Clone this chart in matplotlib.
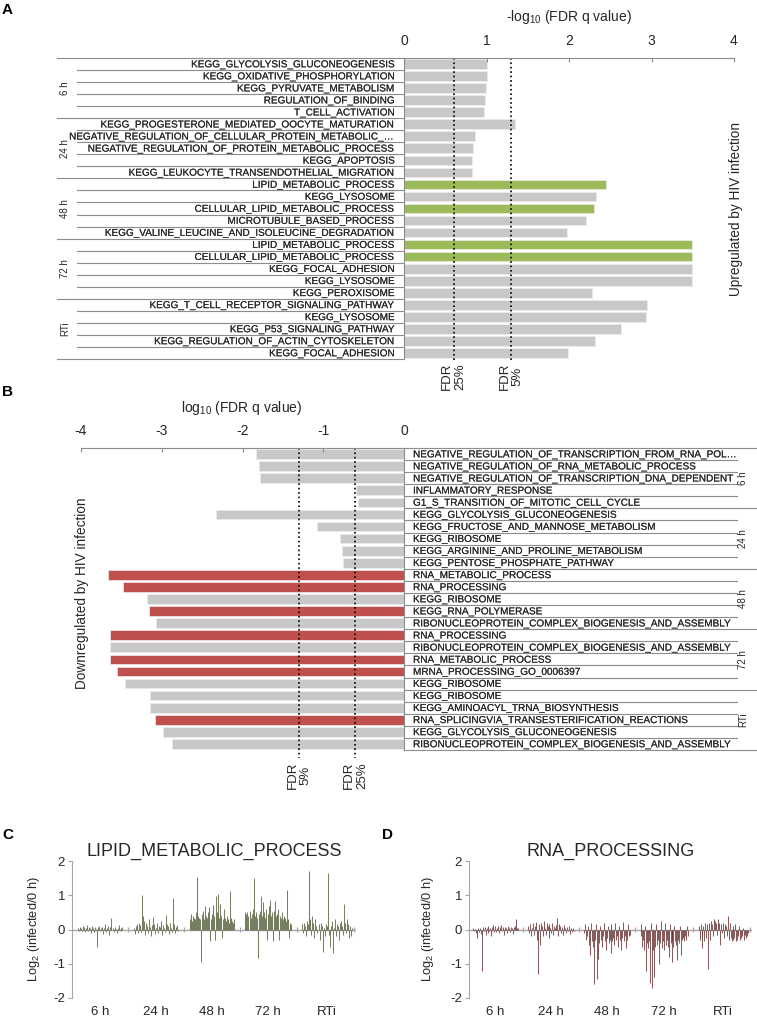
import numpy as np
import matplotlib
matplotlib.use("Agg")
import matplotlib.pyplot as plt
import matplotlib.patheffects as pe

plt.rcParams['font.family'] = ['Liberation Sans', 'DejaVu Sans']
plt.rcParams['mathtext.fontset'] = 'custom'
plt.rcParams['mathtext.rm'] = 'Liberation Sans'
plt.rcParams['mathtext.it'] = 'Liberation Sans:italic'
plt.rcParams['mathtext.default'] = 'regular'
plt.rcParams['axes.unicode_minus'] = False

W, H = 757, 1018

###### DATA ######
groups = ["6 h", "24 h", "48 h", "72 h", "RTi"]

up_terms = [
    "KEGG_GLYCOLYSIS_GLUCONEOGENESIS", "KEGG_OXIDATIVE_PHOSPHORYLATION", "KEGG_PYRUVATE_METABOLISM",
    "REGULATION_OF_BINDING", "T_CELL_ACTIVATION",
    "KEGG_PROGESTERONE_MEDIATED_OOCYTE_MATURATION", "NEGATIVE_REGULATION_OF_CELLULAR_PROTEIN_METABOLIC_\u2026",
    "NEGATIVE_REGULATION_OF_PROTEIN_METABOLIC_PROCESS", "KEGG_APOPTOSIS", "KEGG_LEUKOCYTE_TRANSENDOTHELIAL_MIGRATION",
    "LIPID_METABOLIC_PROCESS", "KEGG_LYSOSOME", "CELLULAR_LIPID_METABOLIC_PROCESS",
    "MICROTUBULE_BASED_PROCESS", "KEGG_VALINE_LEUCINE_AND_ISOLEUCINE_DEGRADATION",
    "LIPID_METABOLIC_PROCESS", "CELLULAR_LIPID_METABOLIC_PROCESS", "KEGG_FOCAL_ADHESION",
    "KEGG_LYSOSOME", "KEGG_PEROXISOME",
    "KEGG_T_CELL_RECEPTOR_SIGNALING_PATHWAY", "KEGG_LYSOSOME", "KEGG_P53_SIGNALING_PATHWAY",
    "KEGG_REGULATION_OF_ACTIN_CYTOSKELETON", "KEGG_FOCAL_ADHESION",
]
up_vals = [1.01, 1.01, 0.99, 0.98, 0.97,
           1.34, 0.86, 0.84, 0.83, 0.82,
           2.45, 2.33, 2.30, 2.20, 1.98,
           3.49, 3.49, 3.49, 3.49, 2.28,
           2.94, 2.93, 2.63, 2.32, 1.99]
up_core = [0, 0, 0, 0, 0,
           0, 0, 0, 0, 0,
           1, 0, 1, 0, 0,
           1, 1, 0, 0, 0,
           0, 0, 0, 0, 0]

down_terms = [
    "NEGATIVE_REGULATION_OF_TRANSCRIPTION_FROM_RNA_POL\u2026", "NEGATIVE_REGULATION_OF_RNA_METABOLIC_PROCESS",
    "NEGATIVE_REGULATION_OF_TRANSCRIPTION_DNA_DEPENDENT", "INFLAMMATORY_RESPONSE",
    "G1_S_TRANSITION_OF_MITOTIC_CELL_CYCLE",
    "KEGG_GLYCOLYSIS_GLUCONEOGENESIS", "KEGG_FRUCTOSE_AND_MANNOSE_METABOLISM", "KEGG_RIBOSOME",
    "KEGG_ARGININE_AND_PROLINE_METABOLISM", "KEGG_PENTOSE_PHOSPHATE_PATHWAY",
    "RNA_METABOLIC_PROCESS", "RNA_PROCESSING", "KEGG_RIBOSOME", "KEGG_RNA_POLYMERASE",
    "RIBONUCLEOPROTEIN_COMPLEX_BIOGENESIS_AND_ASSEMBLY",
    "RNA_PROCESSING", "RIBONUCLEOPROTEIN_COMPLEX_BIOGENESIS_AND_ASSEMBLY", "RNA_METABOLIC_PROCESS",
    "MRNA_PROCESSING_GO_0006397", "KEGG_RIBOSOME",
    "KEGG_RIBOSOME", "KEGG_AMINOACYL_TRNA_BIOSYNTHESIS", "RNA_SPLICINGVIA_TRANSESTERIFICATION_REACTIONS",
    "KEGG_GLYCOLYSIS_GLUCONEOGENESIS", "RIBONUCLEOPROTEIN_COMPLEX_BIOGENESIS_AND_ASSEMBLY",
]
down_vals = [-1.83, -1.80, -1.78, -0.59, -0.57,
             -2.33, -1.08, -0.79, -0.77, -0.76,
             -3.66, -3.48, -3.18, -3.16, -3.07,
             -3.64, -3.64, -3.64, -3.56, -3.46,
             -3.15, -3.15, -3.08, -2.99, -2.87]
down_core = [0, 0, 0, 0, 0,
             0, 0, 0, 0, 0,
             1, 1, 0, 1, 0,
             1, 0, 1, 1, 0,
             0, 0, 1, 0, 0]

# log2(infected / 0 h) per gene, panel C (lipid metabolic process)
lipid_6h = [0.05, -0.03, 0.08, 0.04, -0.05, 0.1, 0.06, -0.08, 0.03, 0.12, -0.04, 0.07, 0.05, -0.1, 0.09,
            0.04, -0.06, 0.08, 0.02, -0.5, 0.06, 0.1, -0.05, 0.04, 0.07, -0.12, 0.05, 0.15, -0.08, 0.03,
            0.09, -0.15, 0.06, 0.33, 0.04, -0.06, 0.08, 0.02, -0.1, 0.05, 0.12, -0.04, 0.03, 0.06, -0.02]
lipid_24h = [0.05, -0.12, 0.1, 0.15, -0.1, 0.2, 0.12, -0.08, 1.0, 0.4, 0.25, -0.15, 0.18, 0.1, -0.1,
             0.3, 0.08, -0.18, 0.12, 0.36, 0.15, -0.12, 0.05, 0.2, -0.1, 0.1, 0.08, 0.25, -0.15, 0.12,
             0.05, -0.08, 0.42, 0.15, 0.1, -0.12, 0.2, 0.05, -0.08, 0.93, 0.15, -0.1, 0.08, 0.12, -0.05]
lipid_48h = [0.3, 0.45, 0.25, 0.4, 0.35, 0.3, 0.5, 1.53, 0.4, 0.35, 0.3, -0.95, 0.45, 0.55, 0.3,
             0.7, 0.4, 0.35, 0.5, 0.65, -0.35, 0.3, 0.45, 0.72, 0.4, -0.3, 0.98, 0.5, 1.05, 0.35,
             0.75, 0.4, -0.25, 0.3, 0.6, 0.35, 0.25, 0.4, 0.3, 0.2, 1.12, 0.35, 0.25, 0.2, 0.3]
lipid_72h = [0.5, 0.45, 0.5, 0.4, 0.55, 0.35, 0.45, 0.6, 1.5, 0.4, 0.5, 0.35, -0.82, 0.45, 0.55,
             0.97, 0.4, 0.8, 0.5, 0.35, 0.6, -0.3, 0.45, 0.7, 0.85, 0.4, 0.5, -0.35, 0.55, 0.82,
             0.4, 0.45, 0.6, -0.3, 0.4, 0.35, 0.5, 0.3, 0.4, 0.35, 0.25, 1.15, 0.3, -0.25, 0.2, 0.15]
lipid_rti = [0.15, -0.1, 0.2, 0.1, -0.2, 0.25, 0.15, 1.7, 0.3, -0.15, 0.4, 0.2, -0.25, 0.3, 0.1,
             -0.1, 0.15, -0.3, 0.2, 0.1, -0.65, 0.05, -0.2, 0.15, 0.1, 1.65, -0.15, -0.5, 0.1, 0.25,
             -0.7, 0.05, 0.3, -0.2, 0.15, 0.1, -0.3, 0.2, 0.25, 0.1, -0.15, 0.75, 0.2, -0.1, 0.3,
             0.15, -0.25, 0.1, -0.2, 0.05]

# panel D (RNA processing)
rna_6h = [0.03, -0.05, 0.02, -0.1, -0.25, 0.05, -0.08, 0.04, -0.12, -1.2, 0.06, -0.05, 0.08, -0.15, 0.05,
          -0.1, 0.1, -0.05, 0.04, -0.2, 0.08, 0.12, -0.06, 0.1, -0.08, 0.05, 0.09, -0.1, 0.07, 0.12,
          -0.04, 0.06, -0.15, 0.08, 0.05, -0.1, 0.1, 0.04, -0.06, 0.08, 0.05, -0.12, 0.06, 0.1, 0.3,
          0.04, 0.05]
rna_24h = [0.1, -0.1, 0.15, -0.2, 0.05, 0.2, -0.15, 0.1, 0.22, -0.3, -1.3, 0.15, -0.45, 0.2, 0.1,
           -0.2, 0.25, 0.05, -0.15, 0.2, 0.1, -0.25, 0.15, 0.05, -0.1, 0.2, -0.15, 0.1, 0.05, 0.12,
           0.35, -0.2, 0.15, 0.1, -0.1, 0.08, -0.15, 0.12, 0.05, -0.1, 0.08, -0.05, 0.1, -0.12, 0.05,
           -0.08, 0.03, -0.05]
rna_48h = [-0.1, 0.15, -0.3, -0.2, 0.1, -0.45, -0.75, 0.2, -0.35, -0.5, -1.6, -0.3, 0.15, -1.45, -0.85,
           -0.4, 0.1, -0.3, -0.5, -0.2, 0.2, -0.35, -0.6, -0.25, 0.1, -0.4, -0.3, -0.7, 0.15, -0.35,
           -0.25, -0.45, 0.2, -0.3, -0.2, -0.5, 0.1, -0.3, -0.6, -0.25, 0.22, -0.35, -0.2, -0.55, -0.3,
           0.15, -0.2, -0.15]
rna_72h = [-0.2, 0.15, -0.5, -0.3, -0.6, 0.1, -1.2, -0.4, -0.55, -0.35, -1.55, 0.2, -1.7, -0.6, -1.4,
           -0.5, 0.15, -0.45, -0.3, -1.0, -0.4, 0.25, -0.55, -0.35, -0.6, 0.2, -0.45, -0.3, -0.5, -0.8,
           0.15, -0.4, -0.95, -0.3, -0.5, 0.1, -0.35, -0.45, -0.9, -0.3, -0.4, 0.1, -0.75, -0.3, -0.25,
           -0.35, -0.2, -0.3, 0.1, -0.2]
rna_rti = [0.1, -0.3, 0.15, -0.55, -0.2, 0.1, -0.35, 0.2, -0.25, 0.15, -1.15, 0.2, -0.3, 0.25, 0.15,
           -0.2, 0.3, 0.25, 0.2, -0.15, 0.3, 0.2, -0.45, 0.15, -0.1, 0.2, -0.25, 0.15, 0.1, -0.2,
           0.38, -0.3, 0.2, -0.25, -0.35, 0.1, -0.3, -0.25, 0.15, -0.35, -0.3, -0.2, 0.1, -0.3, -0.25,
           -0.2, 0.05, -0.3, -0.15, -0.25, -0.2, -0.1]

GREY = '#c8c8c8'
GREEN = '#9bbb59'
RED = '#c0504d'
LINE = '#8c8c8c'
TXT = '#262626'
# very light stroke so the thin underscores survive at this size
thick = [pe.withStroke(linewidth=0.1, foreground='#555555')]

fig = plt.figure(figsize=(W / 100, H / 100), dpi=100)


def px_ax(l, t, r, b):
    return fig.add_axes([l / W, 1 - b / H, (r - l) / W, (b - t) / H])


def ftxt(x, y, s, **kw):
    fig.text(x / W, 1 - y / H, s, color=kw.pop('color', TXT), **kw)


fdr25 = -np.log10(0.25)
fdr5 = -np.log10(0.05)
n = len(up_terms)
y = np.arange(n)

###### PANEL A ######
axA = px_ax(404, 58, 734, 359)
axA.barh(y, up_vals, height=0.8, color=[GREEN if c else GREY for c in up_core],
         edgecolor='#ececec', linewidth=0.5)
axA.set_xlim(0, 4)
axA.set_ylim(n - 0.5, -0.5)
for s in ['bottom', 'left', 'right']:
    axA.spines[s].set_visible(False)
axA.spines['top'].set_color(LINE)
axA.xaxis.tick_top()
axA.set_xticks(range(5))
axA.tick_params(axis='x', direction='in', length=3, color=LINE, pad=7, labelsize=10, labelcolor=TXT)
axA.set_yticks(y - 0.06, up_terms)
axA.tick_params(axis='y', length=0, pad=6.5, labelsize=7.2, labelcolor=TXT)
for t in axA.get_yticklabels():
    t.set_path_effects(thick)
trA = axA.get_yaxis_transform()
for k in range(n + 1):
    x0 = 57 if k % 5 == 0 else 77
    axA.plot([(x0 - 404) / 330, 0], [k - 0.5, k - 0.5], transform=trA, color=LINE, lw=0.8, clip_on=False)
axA.plot([0, 0], [-0.5, n - 0.5], transform=trA, color=LINE, lw=0.8, clip_on=False)
for g, name in enumerate(groups):
    axA.text((65 - 404) / 330, g * 5 + 2, name, rotation=90, ha='center', va='center',
             transform=trA, fontsize=7, color=TXT)
for xv, lab in [(fdr25, 'FDR\n25%'), (fdr5, 'FDR\n5%')]:
    axA.plot([xv, xv], [-0.5, n - 0.3], ls=':', color='k', lw=1.2, clip_on=False)
    axA.text(xv, n - 0.2, lab, rotation=90, ha='center', va='top', fontsize=9.5,
             linespacing=1.1, color=TXT)
ftxt(569, 17, '-log$_{10}$ (FDR q value)', ha='center', va='center', fontsize=10)
ftxt(736, 209, 'Upregulated by HIV infection', rotation=90, ha='center', va='center', fontsize=9.8)
ftxt(2, 10, 'A', fontsize=11, fontweight='bold', va='center', color='k')

###### PANEL B ######
axB = px_ax(81, 448, 404, 750)
axB.barh(y, down_vals, height=0.8, color=[RED if c else GREY for c in down_core],
         edgecolor='#ececec', linewidth=0.5)
axB.set_xlim(-4, 0)
axB.set_ylim(n - 0.5, -0.5)
for s in ['bottom', 'left', 'right']:
    axB.spines[s].set_visible(False)
axB.spines['top'].set_color(LINE)
axB.xaxis.tick_top()
axB.set_xticks(range(-4, 1))
axB.tick_params(axis='x', direction='in', length=3, color=LINE, pad=7, labelsize=10, labelcolor=TXT)
axB.yaxis.tick_right()
axB.set_yticks(y - 0.06, down_terms)
axB.tick_params(axis='y', length=0, pad=6.5, labelsize=7.2, labelcolor=TXT)
for t in axB.get_yticklabels():
    t.set_path_effects(thick)
trB = axB.get_yaxis_transform()
wB = 404 - 81
for k in range(n + 1):
    x1 = 757 if k % 5 == 0 else 737
    axB.plot([1, (x1 - 81) / wB], [k - 0.5, k - 0.5], transform=trB, color=LINE, lw=0.8, clip_on=False)
axB.plot([1, 1], [-0.5, n - 0.5], transform=trB, color=LINE, lw=0.8, clip_on=False)
for g, name in enumerate(groups):
    axB.text((743 - 81) / wB, g * 5 + 2, name, rotation=90, ha='center', va='center',
             transform=trB, fontsize=7, color=TXT)
for xv, lab in [(-fdr5, 'FDR\n5%'), (-fdr25, 'FDR\n25%')]:
    axB.plot([xv, xv], [-0.5, n + 0.2], ls=':', color='k', lw=1.2, clip_on=False)
    axB.text(xv, n + 0.5, lab, rotation=90, ha='center', va='top', fontsize=9.5,
             linespacing=1.1, color=TXT)
ftxt(242, 408, 'log$_{10}$ (FDR q value)', ha='center', va='center', fontsize=10)
ftxt(82, 593, 'Downregulated by HIV infection', rotation=90, ha='center', va='center', fontsize=9.8)
ftxt(2, 392, 'B', fontsize=11, fontweight='bold', va='center', color='k')


###### PANELS C / D ######
def spike_panel(box, series, color, title, x_first, x_last, ylab_x, letter, letter_x):
    l, t, r, b = box
    ax = px_ax(l, t, r, b)
    gap = 10
    pos, vals, centers, gaps = [], [], [], []
    off = 0
    for k, s in enumerate(series):
        xs = off + np.arange(len(s))
        pos.extend(xs)
        vals.extend(s)
        centers.append(xs.mean())
        off = xs[-1] + 1 + gap
        if k < len(series) - 1:
            gaps.append(xs[-1] + gap / 2 + 0.5)
    span = pos[-1]
    p = (x_last - x_first) / span
    ax.set_xlim(-(x_first - l) / p, span + (r - x_last) / p)
    ax.set_ylim(-2, 2)
    ax.axhline(0, color='#a6a6a6', lw=1.0, zorder=1)
    ax.vlines(gaps + [pos[-1] + 2], -0.07, 0.07, color='#a6a6a6', lw=0.9, zorder=1)
    ax.vlines(pos, 0, vals, color=color, lw=0.75, alpha=0.8, zorder=2)
    for s in ['top', 'right', 'bottom']:
        ax.spines[s].set_visible(False)
    ax.spines['left'].set_color('#a6a6a6')
    ax.set_yticks([-2, -1, 0, 1, 2])
    ax.set_xticks([])
    ax.tick_params(axis='y', direction='out', length=3, color='#a6a6a6', pad=2,
                   labelsize=9.5, labelcolor=TXT)
    trX = ax.get_xaxis_transform()
    for c, name in zip(centers, groups):
        ax.text(c, -14 / (b - t), name, transform=trX, ha='center', va='center', fontsize=9.5, color=TXT)
    ax.text(0.5, 1 + 10 / (b - t), title, transform=ax.transAxes, ha='center', va='center',
            fontsize=13, color=TXT)
    ftxt(ylab_x, 929, 'Log$_2$ (infected/0 h)', rotation=90, ha='center', va='center', fontsize=9.2)
    ftxt(letter_x, 835, letter, fontsize=11, fontweight='bold', va='center', color='k')
    return ax


spike_panel((72, 861, 356, 998), [lipid_6h, lipid_24h, lipid_48h, lipid_72h, lipid_rti],
            '#55603c', 'LIPID_METABOLIC_PROCESS', 78, 352, 34, 'C', 2)
spike_panel((469, 861, 752, 998), [rna_6h, rna_24h, rna_48h, rna_72h, rna_rti],
            '#6a3434', 'RNA_PROCESSING', 473, 748, 428, 'D', 382)

fig.savefig('out.png', dpi=100)
